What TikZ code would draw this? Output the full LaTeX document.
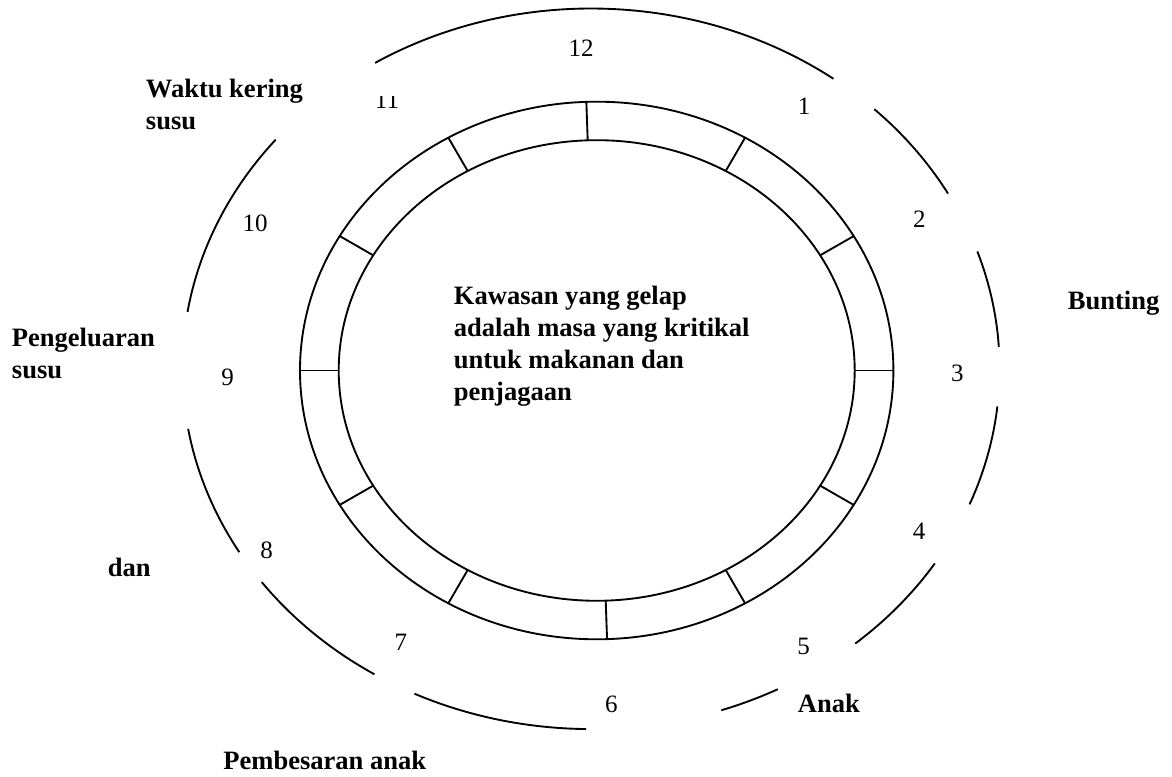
\documentclass[tikz,border=0pt]{standalone}
\usepackage{fontspec}
\setmainfont{Liberation Serif}
\begin{document}
\begin{tikzpicture}[x=0.75pt,y=0.75pt,line width=1.4pt,
    num/.style={font=\fontsize{18.75pt}{22pt}\selectfont, inner sep=0pt},
    lbl/.style={font=\fontsize{19.9pt}{24pt}\selectfont\bfseries, anchor=base west, inner sep=0pt}]
                \useasboundingbox (0,0) rectangle (1172,777);
                \coordinate (O) at (591,408.2);
                \coordinate (R) at (596.7,406.5);

                % the ring and its twelve ticks
                \draw (R) ellipse [x radius=296.7, y radius=268.8];
                \draw (R) ellipse [x radius=258, y radius=230.3];
                \foreach \t in {0,30,60,92,120,150,180,210,240,272,300,330}
                  \draw[shift={(R)}] (\t:258 and 230.3) -- (\t:296.7 and 268.8);

                % broken outer ellipse
                \foreach \a/\b in {53.6/121.9, 29.1/46.1, 3.5/19, -22.1/-6, -49.7/-32.7,
                                   -71.4/-62.8, 244.4/269.3, 216.3/238, 189.6/210.6, 140.5/170.9}
                  \draw (O) ++(\a:408.6 and 360.3) arc [start angle=\a, end angle=\b, x radius=408.6, y radius=360.3];

                % months
                \foreach \n/\x/\y in {12/581/729, 1/804/671, 2/919.3/557.7, 3/957.3/403.7, 4/919/245.3,
                                      5/803.5/131, 6/611.3/72.7, 7/400.9/134.3, 8/266.7/227, 9/227.7/399.7, 10/255/553.7}
                  \node[num] (m\n) at (\x,\y) {\n};
                \begin{scope}
                  \clip (350,600) rectangle (430,680.3);
                  \node[num] (m11) at (387,677) {11};
                \end{scope}

                % stages
                \node[lbl] (kering) at (145,679) {Waktu kering};
                \node[lbl] (kering2) at (145,647) {susu};
                \node[lbl] (keluar) at (11,430.3) {Pengeluaran};
                \node[lbl] (keluar2) at (11,398) {susu};
                \node[lbl] (bunting) at (1067,467.7) {Bunting};
                \node[lbl] (dan) at (107,200) {dan};
                \node[lbl] (anak) at (797,64.3) {Anak};
                \node[lbl] (besar) at (222.5,7) {Pembesaran anak};

                \node[lbl] (note1) at (453,472) {Kawasan yang gelap};
                \node[lbl] (note2) at (453,440) {adalah masa yang kritikal};
                \node[lbl] (note3) at (453,408) {untuk makanan dan};
                \node[lbl] (note4) at (453,376) {penjagaan};
\end{tikzpicture}
\end{document}
